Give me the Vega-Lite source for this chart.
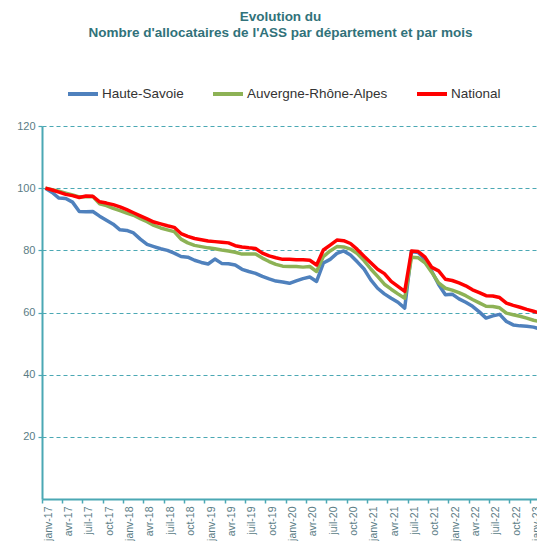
{
  "$schema": "https://vega.github.io/schema/vega-lite/v6.json",
  "autosize": {"type": "none"},
  "width": 495,
  "height": 373,
  "padding": {"left": 42, "top": 126, "right": 0, "bottom": 42},
  "background": "white",
  "title": {
    "text": ["Evolution du", "Nombre d'allocataires de l'ASS par département et par mois"],
    "anchor": "middle",
    "dx": -9,
    "offset": 38,
    "font": "Liberation Sans",
    "fontSize": 13.5,
    "fontWeight": "bold",
    "color": "#31727A",
    "lineHeight": 15.5
  },
  "config": {
    "view": {"stroke": null},
    "font": "Liberation Sans"
  },
  "data": {
    "values": [
      {"m":"janv-17","s":"Haute-Savoie","v":100},{"m":"févr-17","s":"Haute-Savoie","v":98.6},{"m":"mars-17","s":"Haute-Savoie","v":96.8},{"m":"avr-17","s":"Haute-Savoie","v":96.7},{"m":"mai-17","s":"Haute-Savoie","v":95.5},{"m":"juin-17","s":"Haute-Savoie","v":92.5},{"m":"juil-17","s":"Haute-Savoie","v":92.4},{"m":"août-17","s":"Haute-Savoie","v":92.5},{"m":"sept-17","s":"Haute-Savoie","v":91.0},{"m":"oct-17","s":"Haute-Savoie","v":89.7},{"m":"nov-17","s":"Haute-Savoie","v":88.4},{"m":"déc-17","s":"Haute-Savoie","v":86.6},
      {"m":"janv-18","s":"Haute-Savoie","v":86.4},{"m":"févr-18","s":"Haute-Savoie","v":85.6},{"m":"mars-18","s":"Haute-Savoie","v":83.6},{"m":"avr-18","s":"Haute-Savoie","v":81.9},{"m":"mai-18","s":"Haute-Savoie","v":81.2},{"m":"juin-18","s":"Haute-Savoie","v":80.5},{"m":"juil-18","s":"Haute-Savoie","v":80.0},{"m":"août-18","s":"Haute-Savoie","v":79.1},{"m":"sept-18","s":"Haute-Savoie","v":78.0},{"m":"oct-18","s":"Haute-Savoie","v":77.8},{"m":"nov-18","s":"Haute-Savoie","v":76.8},{"m":"déc-18","s":"Haute-Savoie","v":76.1},
      {"m":"janv-19","s":"Haute-Savoie","v":75.6},{"m":"févr-19","s":"Haute-Savoie","v":77.2},{"m":"mars-19","s":"Haute-Savoie","v":75.8},{"m":"avr-19","s":"Haute-Savoie","v":75.7},{"m":"mai-19","s":"Haute-Savoie","v":75.3},{"m":"juin-19","s":"Haute-Savoie","v":73.9},{"m":"juil-19","s":"Haute-Savoie","v":73.2},{"m":"août-19","s":"Haute-Savoie","v":72.6},{"m":"sept-19","s":"Haute-Savoie","v":71.6},{"m":"oct-19","s":"Haute-Savoie","v":70.8},{"m":"nov-19","s":"Haute-Savoie","v":70.1},{"m":"déc-19","s":"Haute-Savoie","v":69.8},
      {"m":"janv-20","s":"Haute-Savoie","v":69.4},{"m":"févr-20","s":"Haute-Savoie","v":70.2},{"m":"mars-20","s":"Haute-Savoie","v":70.9},{"m":"avr-20","s":"Haute-Savoie","v":71.4},{"m":"mai-20","s":"Haute-Savoie","v":70.0},{"m":"juin-20","s":"Haute-Savoie","v":75.9},{"m":"juil-20","s":"Haute-Savoie","v":77.1},{"m":"août-20","s":"Haute-Savoie","v":79.0},{"m":"sept-20","s":"Haute-Savoie","v":79.8},{"m":"oct-20","s":"Haute-Savoie","v":78.5},{"m":"nov-20","s":"Haute-Savoie","v":76.3},{"m":"déc-20","s":"Haute-Savoie","v":74.0},
      {"m":"janv-21","s":"Haute-Savoie","v":70.5},{"m":"févr-21","s":"Haute-Savoie","v":67.8},{"m":"mars-21","s":"Haute-Savoie","v":66.0},{"m":"avr-21","s":"Haute-Savoie","v":64.6},{"m":"mai-21","s":"Haute-Savoie","v":63.3},{"m":"juin-21","s":"Haute-Savoie","v":61.4},{"m":"juil-21","s":"Haute-Savoie","v":79.6},{"m":"août-21","s":"Haute-Savoie","v":79.3},{"m":"sept-21","s":"Haute-Savoie","v":77.0},{"m":"oct-21","s":"Haute-Savoie","v":73.2},{"m":"nov-21","s":"Haute-Savoie","v":69.0},{"m":"déc-21","s":"Haute-Savoie","v":65.7},
      {"m":"janv-22","s":"Haute-Savoie","v":65.9},{"m":"févr-22","s":"Haute-Savoie","v":64.4},{"m":"mars-22","s":"Haute-Savoie","v":63.3},{"m":"avr-22","s":"Haute-Savoie","v":62.0},{"m":"mai-22","s":"Haute-Savoie","v":60.2},{"m":"juin-22","s":"Haute-Savoie","v":58.2},{"m":"juil-22","s":"Haute-Savoie","v":58.9},{"m":"août-22","s":"Haute-Savoie","v":59.4},{"m":"sept-22","s":"Haute-Savoie","v":57.1},{"m":"oct-22","s":"Haute-Savoie","v":56.0},{"m":"nov-22","s":"Haute-Savoie","v":55.7},{"m":"déc-22","s":"Haute-Savoie","v":55.6},
      {"m":"janv-23","s":"Haute-Savoie","v":55.3},{"m":"févr-23","s":"Haute-Savoie","v":54.7},
      {"m":"janv-17","s":"Auvergne-Rhône-Alpes","v":100},{"m":"févr-17","s":"Auvergne-Rhône-Alpes","v":99.5},{"m":"mars-17","s":"Auvergne-Rhône-Alpes","v":99.0},{"m":"avr-17","s":"Auvergne-Rhône-Alpes","v":98.4},{"m":"mai-17","s":"Auvergne-Rhône-Alpes","v":97.8},{"m":"juin-17","s":"Auvergne-Rhône-Alpes","v":97.2},{"m":"juil-17","s":"Auvergne-Rhône-Alpes","v":97.2},{"m":"août-17","s":"Auvergne-Rhône-Alpes","v":97.3},{"m":"sept-17","s":"Auvergne-Rhône-Alpes","v":95.0},{"m":"oct-17","s":"Auvergne-Rhône-Alpes","v":94.4},{"m":"nov-17","s":"Auvergne-Rhône-Alpes","v":93.5},{"m":"déc-17","s":"Auvergne-Rhône-Alpes","v":92.8},
      {"m":"janv-18","s":"Auvergne-Rhône-Alpes","v":92.0},{"m":"févr-18","s":"Auvergne-Rhône-Alpes","v":91.3},{"m":"mars-18","s":"Auvergne-Rhône-Alpes","v":90.2},{"m":"avr-18","s":"Auvergne-Rhône-Alpes","v":89.2},{"m":"mai-18","s":"Auvergne-Rhône-Alpes","v":88.0},{"m":"juin-18","s":"Auvergne-Rhône-Alpes","v":87.2},{"m":"juil-18","s":"Auvergne-Rhône-Alpes","v":86.6},{"m":"août-18","s":"Auvergne-Rhône-Alpes","v":86.0},{"m":"sept-18","s":"Auvergne-Rhône-Alpes","v":83.6},{"m":"oct-18","s":"Auvergne-Rhône-Alpes","v":82.4},{"m":"nov-18","s":"Auvergne-Rhône-Alpes","v":81.6},{"m":"déc-18","s":"Auvergne-Rhône-Alpes","v":81.2},
      {"m":"janv-19","s":"Auvergne-Rhône-Alpes","v":80.8},{"m":"févr-19","s":"Auvergne-Rhône-Alpes","v":80.5},{"m":"mars-19","s":"Auvergne-Rhône-Alpes","v":80.1},{"m":"avr-19","s":"Auvergne-Rhône-Alpes","v":79.8},{"m":"mai-19","s":"Auvergne-Rhône-Alpes","v":79.4},{"m":"juin-19","s":"Auvergne-Rhône-Alpes","v":78.8},{"m":"juil-19","s":"Auvergne-Rhône-Alpes","v":78.8},{"m":"août-19","s":"Auvergne-Rhône-Alpes","v":78.8},{"m":"sept-19","s":"Auvergne-Rhône-Alpes","v":77.5},{"m":"oct-19","s":"Auvergne-Rhône-Alpes","v":76.4},{"m":"nov-19","s":"Auvergne-Rhône-Alpes","v":75.5},{"m":"déc-19","s":"Auvergne-Rhône-Alpes","v":74.9},
      {"m":"janv-20","s":"Auvergne-Rhône-Alpes","v":74.8},{"m":"févr-20","s":"Auvergne-Rhône-Alpes","v":74.8},{"m":"mars-20","s":"Auvergne-Rhône-Alpes","v":74.6},{"m":"avr-20","s":"Auvergne-Rhône-Alpes","v":74.8},{"m":"mai-20","s":"Auvergne-Rhône-Alpes","v":73.2},{"m":"juin-20","s":"Auvergne-Rhône-Alpes","v":78.0},{"m":"juil-20","s":"Auvergne-Rhône-Alpes","v":79.8},{"m":"août-20","s":"Auvergne-Rhône-Alpes","v":81.2},{"m":"sept-20","s":"Auvergne-Rhône-Alpes","v":81.1},{"m":"oct-20","s":"Auvergne-Rhône-Alpes","v":80.4},{"m":"nov-20","s":"Auvergne-Rhône-Alpes","v":79.0},{"m":"déc-20","s":"Auvergne-Rhône-Alpes","v":76.7},
      {"m":"janv-21","s":"Auvergne-Rhône-Alpes","v":74.0},{"m":"févr-21","s":"Auvergne-Rhône-Alpes","v":71.6},{"m":"mars-21","s":"Auvergne-Rhône-Alpes","v":69.1},{"m":"avr-21","s":"Auvergne-Rhône-Alpes","v":67.5},{"m":"mai-21","s":"Auvergne-Rhône-Alpes","v":66.0},{"m":"juin-21","s":"Auvergne-Rhône-Alpes","v":64.6},{"m":"juil-21","s":"Auvergne-Rhône-Alpes","v":77.8},{"m":"août-21","s":"Auvergne-Rhône-Alpes","v":77.6},{"m":"sept-21","s":"Auvergne-Rhône-Alpes","v":76.0},{"m":"oct-21","s":"Auvergne-Rhône-Alpes","v":72.9},{"m":"nov-21","s":"Auvergne-Rhône-Alpes","v":69.5},{"m":"déc-21","s":"Auvergne-Rhône-Alpes","v":67.8},
      {"m":"janv-22","s":"Auvergne-Rhône-Alpes","v":67.2},{"m":"févr-22","s":"Auvergne-Rhône-Alpes","v":66.4},{"m":"mars-22","s":"Auvergne-Rhône-Alpes","v":65.4},{"m":"avr-22","s":"Auvergne-Rhône-Alpes","v":64.2},{"m":"mai-22","s":"Auvergne-Rhône-Alpes","v":63.1},{"m":"juin-22","s":"Auvergne-Rhône-Alpes","v":62.0},{"m":"juil-22","s":"Auvergne-Rhône-Alpes","v":61.9},{"m":"août-22","s":"Auvergne-Rhône-Alpes","v":61.5},{"m":"sept-22","s":"Auvergne-Rhône-Alpes","v":59.8},{"m":"oct-22","s":"Auvergne-Rhône-Alpes","v":59.3},{"m":"nov-22","s":"Auvergne-Rhône-Alpes","v":58.8},{"m":"déc-22","s":"Auvergne-Rhône-Alpes","v":58.2},
      {"m":"janv-23","s":"Auvergne-Rhône-Alpes","v":57.5},{"m":"févr-23","s":"Auvergne-Rhône-Alpes","v":57.0},
      {"m":"janv-17","s":"National","v":100},{"m":"févr-17","s":"National","v":99.4},{"m":"mars-17","s":"National","v":98.7},{"m":"avr-17","s":"National","v":98.0},{"m":"mai-17","s":"National","v":97.6},{"m":"juin-17","s":"National","v":97.0},{"m":"juil-17","s":"National","v":97.5},{"m":"août-17","s":"National","v":97.4},{"m":"sept-17","s":"National","v":95.6},{"m":"oct-17","s":"National","v":95.2},{"m":"nov-17","s":"National","v":94.7},{"m":"déc-17","s":"National","v":94.0},
      {"m":"janv-18","s":"National","v":93.1},{"m":"févr-18","s":"National","v":92.1},{"m":"mars-18","s":"National","v":91.1},{"m":"avr-18","s":"National","v":90.1},{"m":"mai-18","s":"National","v":89.1},{"m":"juin-18","s":"National","v":88.5},{"m":"juil-18","s":"National","v":87.9},{"m":"août-18","s":"National","v":87.4},{"m":"sept-18","s":"National","v":85.4},{"m":"oct-18","s":"National","v":84.5},{"m":"nov-18","s":"National","v":83.8},{"m":"déc-18","s":"National","v":83.4},
      {"m":"janv-19","s":"National","v":83.0},{"m":"févr-19","s":"National","v":82.8},{"m":"mars-19","s":"National","v":82.6},{"m":"avr-19","s":"National","v":82.4},{"m":"mai-19","s":"National","v":81.5},{"m":"juin-19","s":"National","v":81.1},{"m":"juil-19","s":"National","v":80.8},{"m":"août-19","s":"National","v":80.6},{"m":"sept-19","s":"National","v":79.1},{"m":"oct-19","s":"National","v":78.2},{"m":"nov-19","s":"National","v":77.6},{"m":"déc-19","s":"National","v":77.1},
      {"m":"janv-20","s":"National","v":77.1},{"m":"févr-20","s":"National","v":77.0},{"m":"mars-20","s":"National","v":77.0},{"m":"avr-20","s":"National","v":76.8},{"m":"mai-20","s":"National","v":75.3},{"m":"juin-20","s":"National","v":80.1},{"m":"juil-20","s":"National","v":81.7},{"m":"août-20","s":"National","v":83.3},{"m":"sept-20","s":"National","v":83.1},{"m":"oct-20","s":"National","v":82.2},{"m":"nov-20","s":"National","v":80.3},{"m":"déc-20","s":"National","v":78.1},
      {"m":"janv-21","s":"National","v":76.0},{"m":"févr-21","s":"National","v":73.9},{"m":"mars-21","s":"National","v":72.5},{"m":"avr-21","s":"National","v":70.0},{"m":"mai-21","s":"National","v":68.4},{"m":"juin-21","s":"National","v":66.8},{"m":"juil-21","s":"National","v":79.8},{"m":"août-21","s":"National","v":79.6},{"m":"sept-21","s":"National","v":77.8},{"m":"oct-21","s":"National","v":74.5},{"m":"nov-21","s":"National","v":73.4},{"m":"déc-21","s":"National","v":70.7},
      {"m":"janv-22","s":"National","v":70.3},{"m":"févr-22","s":"National","v":69.5},{"m":"mars-22","s":"National","v":68.6},{"m":"avr-22","s":"National","v":67.3},{"m":"mai-22","s":"National","v":66.4},{"m":"juin-22","s":"National","v":65.4},{"m":"juil-22","s":"National","v":65.3},{"m":"août-22","s":"National","v":64.8},{"m":"sept-22","s":"National","v":63.0},{"m":"oct-22","s":"National","v":62.3},{"m":"nov-22","s":"National","v":61.7},{"m":"déc-22","s":"National","v":61.0},
      {"m":"janv-23","s":"National","v":60.4},{"m":"févr-23","s":"National","v":59.8}
    ]
  },
  "mark": {"type": "line", "strokeWidth": 3.5, "strokeJoin": "round", "clip": false},
  "encoding": {
    "x": {
      "field": "m",
      "type": "ordinal",
      "sort": null,
      "bandPosition": 0.5,
      "scale": {"type": "band", "paddingInner": 0, "paddingOuter": 0, "range": [0, 501.7]},
      "axis": {
        "title": null,
        "values": ["janv-17","avr-17","juil-17","oct-17","janv-18","avr-18","juil-18","oct-18","janv-19","avr-19","juil-19","oct-19","janv-20","avr-20","juil-20","oct-20","janv-21","avr-21","juil-21","oct-21","janv-22","avr-22","juil-22","oct-22","janv-23"],
        "bandPosition": 0,
        "labelOffset": 3.4,
        "labelAngle": -90,
        "labelFontSize": 10.5,
        "labelColor": "#5A7C85",
        "labelPadding": 3,
        "labelOverlap": false,
        "labelBound": false,
        "tickSize": 4,
        "tickColor": "#4BA8B4",
        "tickWidth": 1.5,
        "domainColor": "#4BA8B4",
        "domainWidth": 2,
        "grid": false
      }
    },
    "y": {
      "field": "v",
      "type": "quantitative",
      "scale": {"domain": [0, 120], "nice": false, "zero": true},
      "axis": {
        "title": null,
        "values": [20, 40, 60, 80, 100, 120],
        "labelFontSize": 11,
        "labelColor": "#5A7C85",
        "labelPadding": 3,
        "tickSize": 4,
        "tickColor": "#4BA8B4",
        "tickWidth": 1.2,
        "domainColor": "#4BA8B4",
        "domainWidth": 2,
        "grid": true,
        "gridColor": "#4BA8B4",
        "gridDash": [4, 3],
        "gridWidth": 1.2
      }
    },
    "color": {
      "field": "s",
      "type": "nominal",
      "scale": {
        "domain": ["Haute-Savoie", "Auvergne-Rhône-Alpes", "National"],
        "range": ["#4F81BD", "#8DB255", "#FF0000"]
      },
      "legend": {
        "title": null,
        "orient": "none",
        "legendX": 24,
        "legendY": -49,
        "direction": "horizontal",
        "symbolType": "stroke",
        "symbolSize": 900,
        "symbolStrokeWidth": 4,
        "labelFontSize": 13.5,
        "labelColor": "#333333",
        "labelOffset": 2,
        "columnPadding": 21
      }
    }
  }
}
